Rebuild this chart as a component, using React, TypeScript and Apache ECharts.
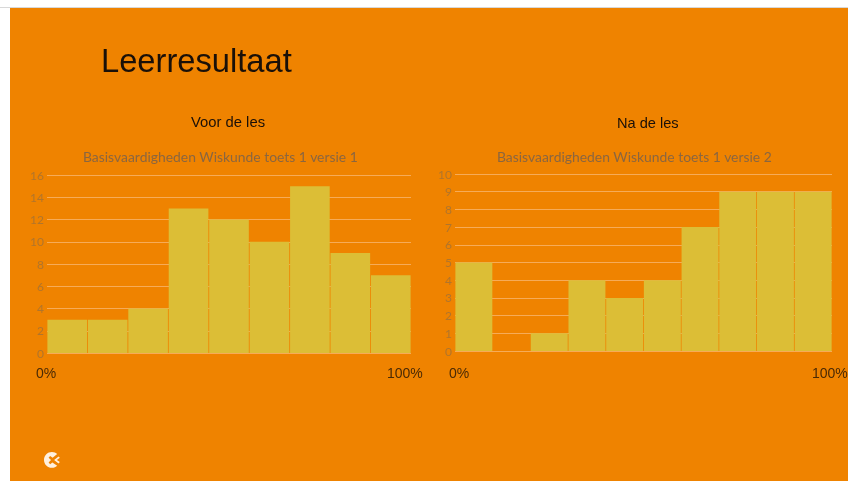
import React, { useEffect, useRef } from "react";
import * as echarts from "echarts";

const slideTitle = "Leerresultaat";
const leftHeading = "Voor de les";
const rightHeading = "Na de les";
const leftSubtitle = "Basisvaardigheden Wiskunde toets 1 versie 1";
const rightSubtitle = "Basisvaardigheden Wiskunde toets 1 versie 2";
const leftBins = ["1", "2", "3", "4", "5", "6", "7", "8", "9"];
const leftValues = [3, 3, 4, 13, 12, 10, 15, 9, 7];
const rightBins = ["1", "2", "3", "4", "5", "6", "7", "8", "9", "10"];
const rightValues = [5, 0, 1, 4, 3, 4, 7, 9, 9, 9];
const startLabel = "0%";
const endLabel = "100%";

const LOGO_D =
  "M9 0 C4 0 0 4 0 9 C0 14 4 18 9 18 C11.5 18 13.6 17 15 15.6 L9.5 12 L7 14 L5.2 12 L8 9.2 L5.2 6.4 L7 4.6 L9.8 6.6 L15 2.4 C13.6 1 11.5 0 9 0 Z M16.5 5 L11.5 9 L16.5 13 L18 11.5 L14.6 9 L18 6.5 Z";

export default function App() {
  const ref = useRef<HTMLDivElement>(null);
  useEffect(() => {
    document.body.style.margin = "0";
    document.body.style.background = "#fff";
    echarts.graphic.registerShape("logoMark", echarts.graphic.extendPath(LOGO_D, {}) as any);
    const chart = echarts.init(ref.current!, undefined, { renderer: "svg" });
    const axisLabel = { color: "#b0752c", fontFamily: "Lato", fontSize: 12, margin: 3 };
    const splitLine = { show: true, lineStyle: { color: "#f6ab58", width: 1 } };
    const head = (text: string, left: number, top: number, size: number, color: string, family: string) => ({
      text,
      left,
      top,
      padding: 0,
      textStyle: { color, fontSize: size, fontWeight: "normal" as const, fontFamily: family },
    });
    chart.setOption({
      animation: false,
      backgroundColor: "transparent",
      title: [
        head(slideTitle, 101, 44, 32.7, "#1a1008", "Liberation Sans"),
        head(leftHeading, 191, 114, 14.8, "#1a1008", "Liberation Sans"),
        head(rightHeading, 617, 115, 14.6, "#1a1008", "Liberation Sans"),
        head(leftSubtitle, 83, 149, 13.9, "#8a6640", "Lato"),
        head(rightSubtitle, 497, 149, 13.9, "#8a6640", "Lato"),
        head(startLabel, 36, 366, 14, "#4a2a05", "Liberation Sans"),
        head(startLabel, 449, 366, 14, "#4a2a05", "Liberation Sans"),
        head(endLabel, 387, 366, 14, "#4a2a05", "Liberation Sans"),
        head(endLabel, 812, 366, 14, "#4a2a05", "Liberation Sans"),
      ],
      graphic: [
        { type: "rect", z: -10, silent: true, shape: { x: 0, y: 7, width: 848, height: 1 }, style: { fill: "#d8d8d8" } },
        { type: "rect", z: -10, silent: true, shape: { x: 10, y: 8, width: 838, height: 473 }, style: { fill: "#ef8300" } },
        { type: "logoMark", x: 44, y: 452, scaleX: 0.88, scaleY: 0.88, style: { fill: "#fff0dd" } },
      ],
      grid: [
        { left: 47, top: 175, width: 364, height: 178 },
        { left: 455, top: 174, width: 377, height: 177 },
      ],
      xAxis: [
        { type: "category", gridIndex: 0, data: leftBins, axisLabel: { show: false }, axisTick: { show: false }, axisLine: { show: false } },
        { type: "category", gridIndex: 1, data: rightBins, axisLabel: { show: false }, axisTick: { show: false }, axisLine: { show: false } },
      ],
      yAxis: [
        { type: "value", gridIndex: 0, min: 0, max: 16, interval: 2, axisLabel, splitLine, axisLine: { show: false }, axisTick: { show: false } },
        { type: "value", gridIndex: 1, min: 0, max: 10, interval: 1, axisLabel, splitLine, axisLine: { show: false }, axisTick: { show: false } },
      ],
      series: [
        { type: "bar", xAxisIndex: 0, yAxisIndex: 0, data: leftValues, barCategoryGap: "2%", itemStyle: { color: "#dcbe36" } },
        { type: "bar", xAxisIndex: 1, yAxisIndex: 1, data: rightValues, barCategoryGap: "2%", itemStyle: { color: "#dcbe36" } },
      ],
    });
    return () => chart.dispose();
  }, []);
  return (
    <div
      ref={ref}
      style={{ position: "absolute", left: 0, top: 0, width: 848, height: 481, filter: "blur(0.7px)" }}
    />
  );
}
